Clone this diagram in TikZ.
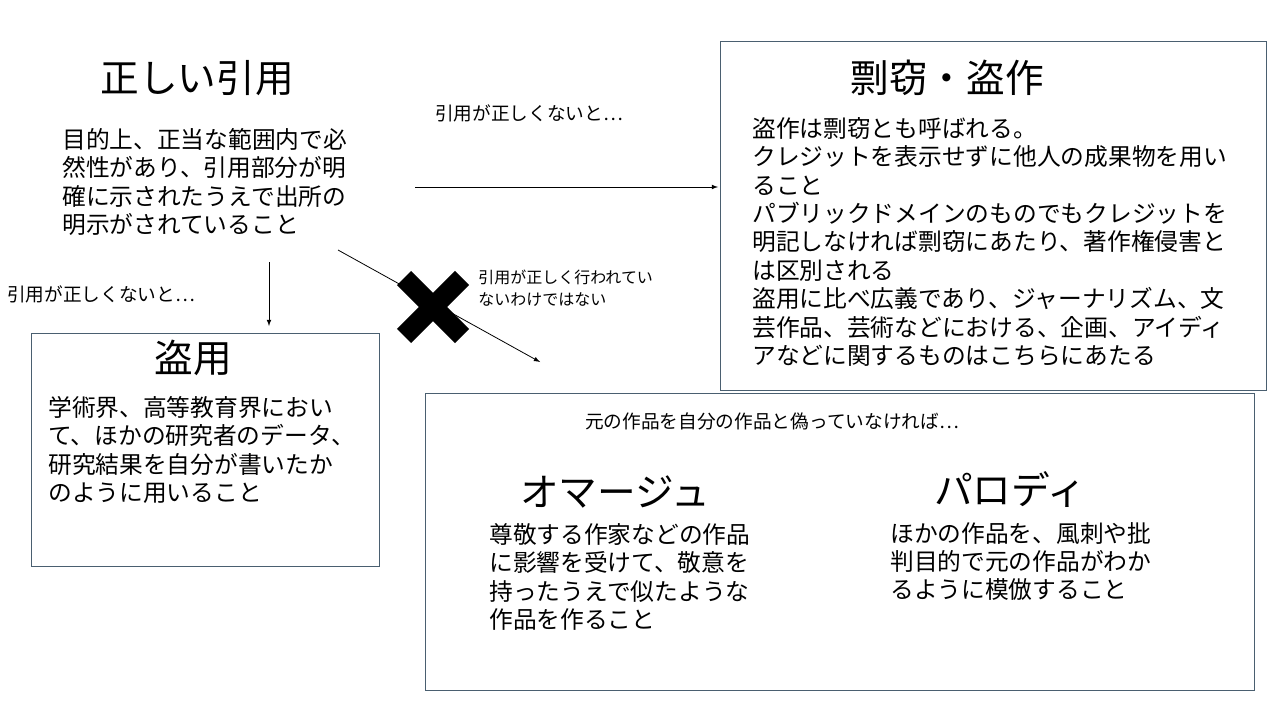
\documentclass[tikz,border=0pt]{standalone}
\usepackage{fontspec}
\setmainfont{Noto Sans CJK JP}
\usetikzlibrary{arrows}
\definecolor{boxline}{HTML}{4A5F70}
\tikzset{
  panel/.style={draw=boxline, line width=0.6pt},
  heading/.style={font=\fontsize{29}{33}\selectfont},
  bodytext/.style={anchor=north west, align=left, inner sep=0pt, font=\fontsize{17.8}{21.3}\selectfont},
  note/.style={anchor=west, inner sep=0pt, font=\fontsize{14}{17}\selectfont},
  small/.style={anchor=north west, align=left, inner sep=0pt, font=\fontsize{12}{16.5}\selectfont},
  link/.style={->, >=latex, line width=0.6pt}
}
\begin{document}
\begin{tikzpicture}[x=0.75pt, y=-0.75pt]
\useasboundingbox (0,0) rectangle (1280,720);

% 正しい引用
\node[heading] (quote) at (197,78) {正しい引用};
\node[bodytext] (quotetext) at (62,128) {目的上、正当な範囲内で必\\然性があり、引用部分が明\\確に示されたうえで出所の\\明示がされていること};

% 剽窃・盗作
\draw[panel] (720,41) rectangle (1266,390);
\node[heading] (plag) at (947,78) {剽窃・盗作};
\node[bodytext] (plagtext) at (752,117) {盗作は剽窃とも呼ばれる。\\クレジットを表示せずに他人の成果物を用い\\ること\\パブリックドメインのものでもクレジットを\\明記しなければ剽窃にあたり、著作権侵害と\\は区別される\\盗用に比べ広義であり、ジャーナリズム、文\\芸作品、芸術などにおける、企画、アイディ\\アなどに関するものはこちらにあたる};

% 盗用
\draw[panel] (31,333) rectangle (379,566);
\node[heading] (misuse) at (193,358) {盗用};
\node[bodytext] (misusetext) at (48,396) {学術界、高等教育界におい\\て、ほかの研究者のデータ、\\研究結果を自分が書いたか\\のように用いること};

% オマージュ・パロディ
\draw[panel] (425,393) rectangle (1254,690);
\node[note] (cond) at (585,421) {元の作品を自分の作品と偽っていなければ…};
\node[heading] (homage) at (615,492) {オマージュ};
\node[bodytext] (homagetext) at (489,523) {尊敬する作家などの作品\\に影響を受けて、敬意を\\持ったうえで似たような\\作品を作ること};
\node[heading] (parody) at (1010,490) {パロディ};
\node[bodytext] (parodytext) at (890,522) {ほかの作品を、風刺や批\\判目的で元の作品がわか\\るように模倣すること};

% connectors
\coordinate (a1) at (415,187);
\coordinate (a2) at (718,187);
\draw[link] (a1) -- (a2);
\node[note] (lab1) at (435,113) {引用が正しくないと…};
\coordinate (b1) at (269,262);
\coordinate (b2) at (269,326);
\draw[link] (b1) -- (b2);
\node[note] (lab2) at (7,294) {引用が正しくないと…};
\coordinate (c1) at (338,250);
\coordinate (c2) at (540,362);
\draw[link] (c1) -- (c2);
\node[small] (lab3) at (478,270) {引用が正しく行われてい\\ないわけではない};

% cross
\draw[line width=15pt] (404,278) -- (462,336) (462,278) -- (404,336);
\end{tikzpicture}
\end{document}
